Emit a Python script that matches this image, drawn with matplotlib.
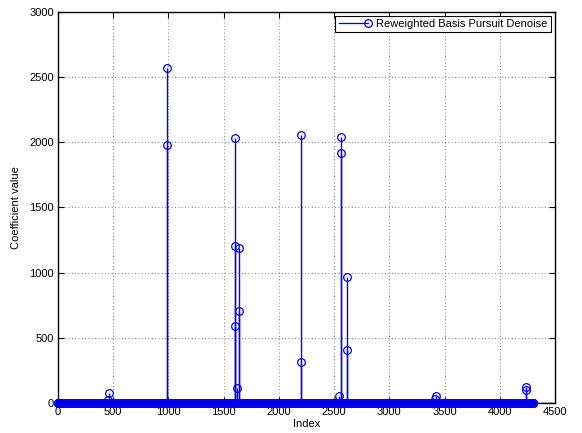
import numpy as np
import matplotlib
matplotlib.use("Agg")
import matplotlib.pyplot as plt
from matplotlib.lines import Line2D
from matplotlib.legend_handler import HandlerBase

plt.rcParams['font.family'] = ['Liberation Sans', 'DejaVu Sans']

# recovered coefficient vector: length and its non-zero entries
n_coef = 4300
nz_index = [455, 460, 984, 990, 1598, 1603, 1606, 1620, 1636, 1641,
            2196, 2202, 2546, 2558, 2564, 2615, 2621, 3412, 3418, 4235, 4241]
nz_value = [20, 77, 2565, 1980, 1205, 588, 2035, 113, 1185, 705,
            312, 2055, 50, 2040, 1915, 969, 406, 30, 56, 125, 100]

x_ticks = [0, 500, 1000, 1500, 2000, 2500, 3000, 3500, 4000, 4500]
y_ticks = [0, 500, 1000, 1500, 2000, 2500, 3000]

idx = np.arange(1, n_coef + 1)
coef = np.zeros(n_coef)
coef[np.array(nz_index) - 1] = nz_value

fig = plt.figure(figsize=(5.82, 4.33), dpi=100)
ax = fig.add_axes([0.0997, 0.0693, 0.8539, 0.9037])

ax.grid(True, linestyle=(0, (1, 3)), color='0.35', linewidth=0.6)
ax.set_axisbelow(True)

markers, stems, base = ax.stem(idx, coef, linefmt='b-', markerfmt='bo', basefmt=' ')
stems.set_linewidth(1.0)
markers.set_markerfacecolor('none')
markers.set_markeredgecolor('b')
markers.set_markersize(5.5)
markers.set_markeredgewidth(0.9)
markers.set_clip_on(False)
markers.set_zorder(4)
ax.axhline(0, color='k', linewidth=1.0, zorder=5)

ax.set_xlim(0, 4500)
ax.set_ylim(0, 3000)
ax.set_xticks(x_ticks)
ax.set_yticks(y_ticks)
ax.tick_params(direction='in', top=True, right=True, length=4, width=0.8,
               labelsize=8, pad=3)
for s in ax.spines.values():
    s.set_linewidth(1.0)

ax.set_xlabel('Index', fontsize=8, labelpad=1)
ax.set_ylabel('Coefficient value', fontsize=8, labelpad=6)


class StemLegend(HandlerBase):
    # line with the circle at its right end, like a stem legend entry
    def create_artists(self, legend, orig_handle, xdescent, ydescent,
                       width, height, fontsize, trans):
        y = height / 2 - ydescent
        ln = Line2D([-xdescent, width - xdescent], [y, y], color='b',
                    linewidth=0.9, transform=trans)
        mk = Line2D([width - xdescent], [y], marker='o', markerfacecolor='none',
                    markeredgecolor='b', markersize=5.5, markeredgewidth=0.9,
                    transform=trans)
        return [ln, mk]


proxy = Line2D([], [], color='b')
leg = ax.legend([proxy], ['Reweighted Basis Pursuit Denoise'],
                handler_map={Line2D: StemLegend()}, loc='upper right',
                fontsize=8, fancybox=False, framealpha=1, edgecolor='k',
                borderaxespad=0.35, handlelength=2.6, handletextpad=0.8,
                borderpad=0.3)
leg.get_frame().set_linewidth(0.8)
leg.set_zorder(6)

fig.savefig('out.png', dpi=100)
